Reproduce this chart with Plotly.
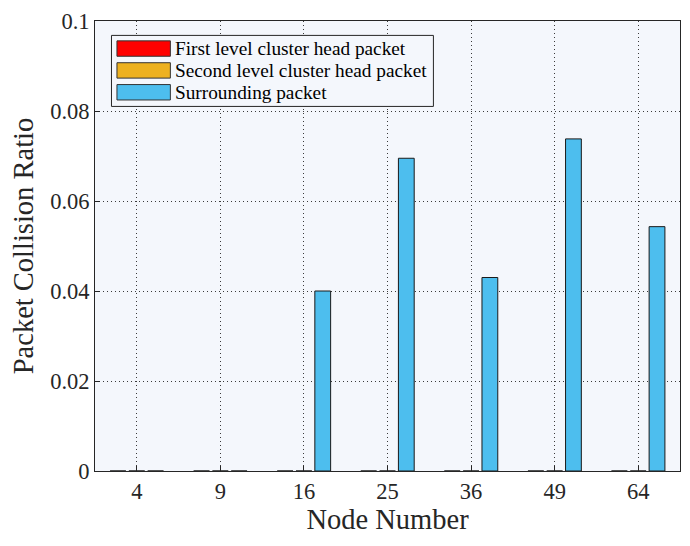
import plotly.graph_objects as go

categories = ["4", "9", "16", "25", "36", "49", "64"]
first_level = [0, 0, 0, 0, 0, 0, 0]
second_level = [0, 0, 0, 0, 0, 0, 0]
surrounding = [0, 0, 0.0400, 0.0695, 0.0430, 0.0738, 0.0543]
series_names = ["First level cluster head packet", "Second level cluster head packet", "Surrounding packet"]
series_colors = ["#FF0000", "#EDB120", "#4DBEEE"]
y_ticks = [0, 0.02, 0.04, 0.06, 0.08, 0.1]
y_ticklabels = ["0", "0.02", "0.04", "0.06", "0.08", "0.1"]

FONT = "Liberation Serif"
W, H = 690, 546
L, R, T, B = 95, 9, 18, 75
PW, PH = W - L - R, H - T - B

def px(x):
    return (x - L) / PW

def py(y):
    return (H - B - y) / PH

fig = go.Figure()
for name, vals, col in zip(series_names, [first_level, second_level, surrounding], series_colors):
    fig.add_trace(go.Bar(
        x=categories, y=vals, name=name,
        marker=dict(color=col, line=dict(color="#1a1a1a", width=1)),
        showlegend=False,
    ))

# custom legend box mimicking MATLAB legend
shapes = [dict(type="rect", xref="paper", yref="paper",
               x0=px(111.5), x1=px(434), y0=py(104), y1=py(32.5),
               fillcolor="#F4F7FC", line=dict(color="#262626", width=1), layer="above")]
annotations = []
row_tops = [38, 60, 82]
for name, col, top in zip(series_names, series_colors, row_tops):
    shapes.append(dict(type="rect", xref="paper", yref="paper",
                       x0=px(117), x1=px(170.5), y0=py(top + 15.5), y1=py(top),
                       fillcolor=col, line=dict(color="#333333", width=1), layer="above"))
    annotations.append(dict(xref="paper", yref="paper", x=px(173), y=py(top + 7.5),
                            xanchor="left", yanchor="middle", showarrow=False,
                            text=name, font=dict(family=FONT, size=19.3, color="#000000")))

fig.update_layout(
    width=W, height=H,
    margin=dict(l=L, r=R, t=T, b=B),
    paper_bgcolor="white",
    plot_bgcolor="#F4F7FC",
    barmode="group",
    bargap=0.325,
    bargroupgap=0.16,
    font=dict(family=FONT, color="#262626"),
    showlegend=False,
    shapes=shapes,
    annotations=annotations,
)
GRID_DASH = "1px,3px"
fig.update_xaxes(
    type="category", range=[-0.5, 6.5],
    showline=True, linecolor="#262626", linewidth=1, mirror=True,
    ticks="inside", ticklen=5, tickcolor="#262626",
    showgrid=True, gridcolor="#3a3a3a", griddash=GRID_DASH, gridwidth=1,
    tickfont=dict(family=FONT, size=22.5, color="#262626"),
    title=dict(text="Node Number", font=dict(family=FONT, size=28.5, color="#262626"), standoff=6),
)
fig.update_yaxes(
    range=[0, 0.1], tickvals=y_ticks, ticktext=y_ticklabels,
    showline=True, linecolor="#262626", linewidth=1, mirror=True,
    ticks="inside", ticklen=5, tickcolor="#262626",
    showgrid=True, gridcolor="#3a3a3a", griddash=GRID_DASH, gridwidth=1,
    zeroline=False,
    tickfont=dict(family=FONT, size=22.5, color="#262626"),
    title=dict(text="Packet Collision Ratio", font=dict(family=FONT, size=28.5, color="#262626"), standoff=8),
)

fig.write_html("out.html")
